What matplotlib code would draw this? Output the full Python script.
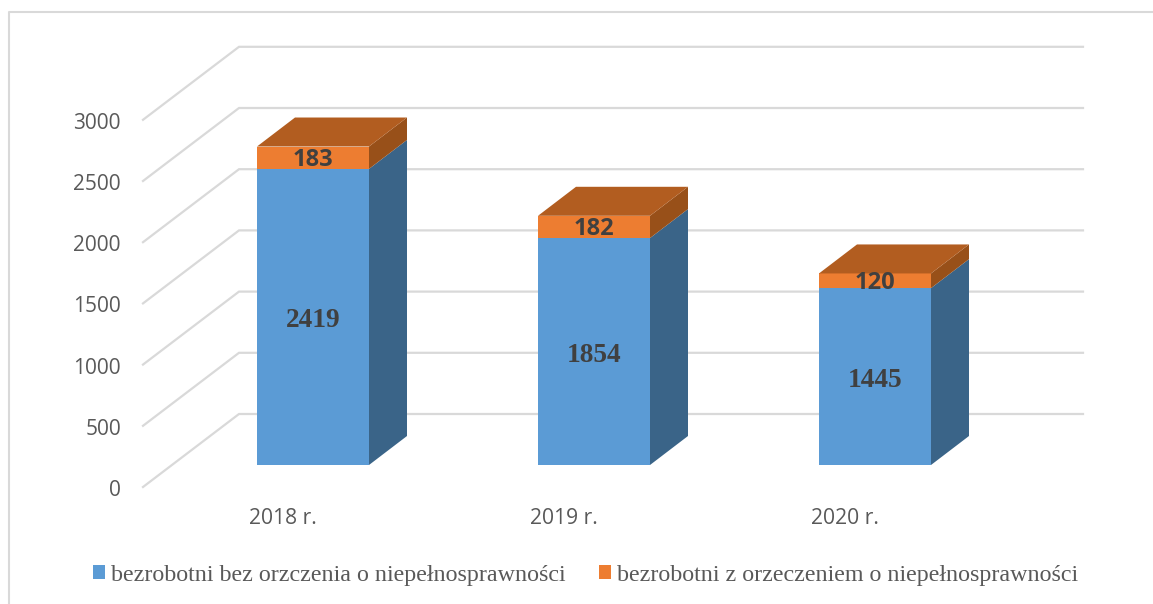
import matplotlib.pyplot as plt
from matplotlib.patches import Patch, Polygon, Rectangle

categories = ["2018 r.", "2019 r.", "2020 r."]
bez_orzeczenia = [2419, 1854, 1445]
z_orzeczeniem = [183, 182, 120]
y_ticks = [0, 500, 1000, 1500, 2000, 2500, 3000]
series_names = [
    "bezrobotni bez orzczenia o niepełnosprawności",
    "bezrobotni z orzeczeniem o niepełnosprawności",
]

W, H = 1153, 604
PX_X = 281.0      # px per category step
PX_Y = 0.1224     # px per unit
X0, Y0 = 313.0, 465.0   # centre of first bar, base of bar front face


def ux(px):
    return px / PX_X


def uy(px):
    return px / PX_Y


BLUE, BLUE_SIDE = "#5B9BD5", "#3A6488"
ORANGE, ORANGE_SIDE, ORANGE_TOP = "#ED7D31", "#985019", "#B25D20"
GRID = "#D9D9D9"
TEXT = "#595959"
DARK = "#404040"

half = ux(56)
depth_x, depth_y = ux(38), uy(29)

fig = plt.figure(figsize=(W / 100, H / 100), dpi=100)
ax = fig.add_axes([0, 0, 1, 1])
ax.set_xlim(-X0 / PX_X, (W - X0) / PX_X)
ax.set_ylim((Y0 - H) / PX_Y, Y0 / PX_Y)
ax.axis("off")

# chart frame, top and left edges
ax.plot([ux(1153 - X0), ux(9 - X0), ux(9 - X0)],
        [uy(Y0 - 12), uy(Y0 - 12), uy(Y0 - 604)],
        color=GRID, lw=1.5, zorder=1)

# oblique gridlines: front edge, back wall
front_x, back_x, end_x = ux(143 - X0), ux(239 - X0), ux(1083 - X0)
front_dy, back_dy = uy(-22), uy(51)
for t in y_ticks:
    ax.plot([front_x, back_x, end_x],
            [t + front_dy, t + back_dy, t + back_dy],
            color=GRID, lw=1.6, zorder=1, solid_joinstyle="miter")
    ax.text(ux(121 - X0), t + front_dy + uy(-3.5), str(t), ha="right", va="center",
            fontsize=15, color=TEXT, family="Open Sans")


def box(i, lo, hi, front, side):
    left, right = i - half, i + half
    ax.add_patch(Rectangle((left, lo), right - left, hi - lo, fc=front, ec="none", zorder=3))
    ax.add_patch(Polygon([(right, lo), (right + depth_x, lo + depth_y),
                          (right + depth_x, hi + depth_y), (right, hi)],
                         fc=side, ec="none", zorder=3))


for i, cat in enumerate(categories):
    a, b = bez_orzeczenia[i], z_orzeczeniem[i]
    box(i, 0, a, BLUE, BLUE_SIDE)
    box(i, a, a + b, ORANGE, ORANGE_SIDE)
    left, right = i - half, i + half
    ax.add_patch(Polygon([(left, a + b), (left + depth_x, a + b + depth_y),
                          (right + depth_x, a + b + depth_y), (right, a + b)],
                         fc=ORANGE_TOP, ec="none", zorder=4))
    ax.text(i, a / 2 + uy(-4), str(a), ha="center", va="center", fontsize=19.7,
            fontweight="bold", color=DARK, family="Liberation Serif", zorder=5)
    ax.text(i, a + b / 2 + uy(-2.5), str(b), ha="center", va="center", fontsize=17,
            fontweight="bold", color=DARK, family="Open Sans", zorder=5)
    ax.text(i + ux(-30), uy(Y0 - 518), cat, ha="center", va="center",
            fontsize=15.2, color=TEXT, family="Open Sans")

handles = [Patch(fc=BLUE), Patch(fc=ORANGE)]
ax.legend(handles, series_names, loc="center", ncol=2, frameon=False,
          bbox_to_anchor=(0.508, 1 - 575 / H),
          prop={"family": "Liberation Serif", "size": 17.25},
          labelcolor=TEXT, handlelength=0.5, handleheight=0.5,
          handletextpad=0.25, columnspacing=1.4)

fig.savefig("out.png", dpi=100)
